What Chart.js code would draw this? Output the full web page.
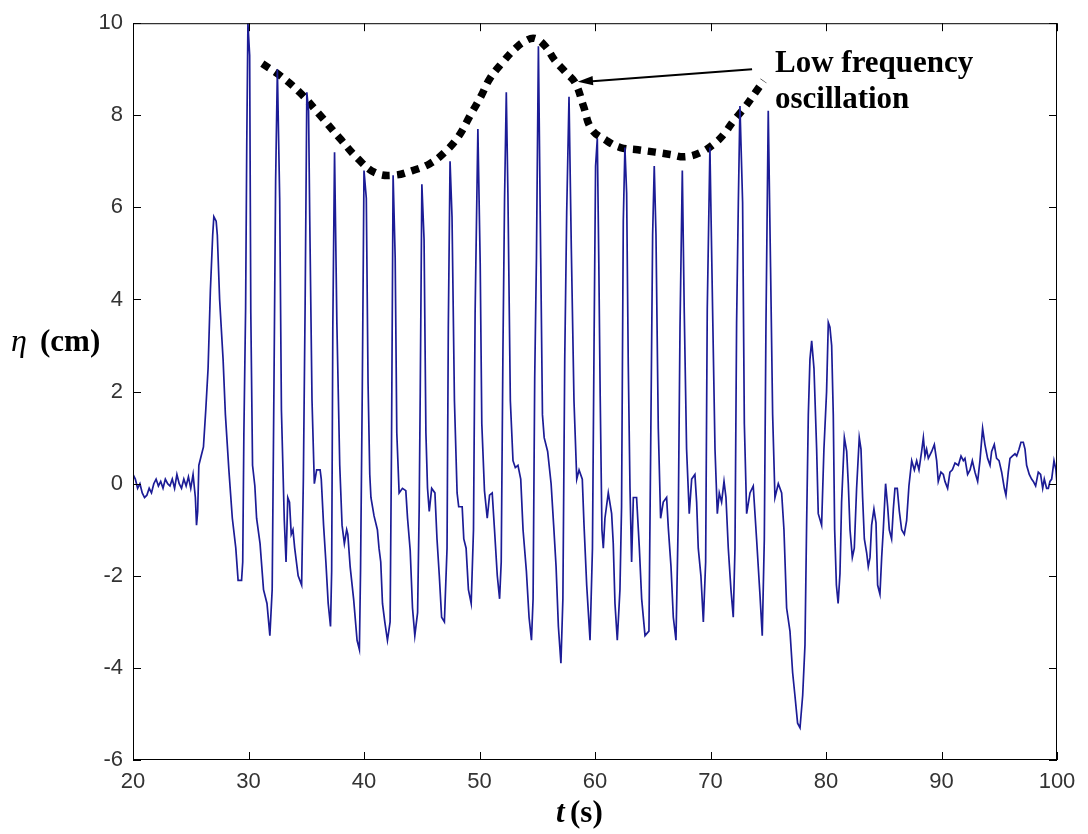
<!DOCTYPE html>
<html>
<head>
<meta charset="utf-8">
<script src="https://cdn.jsdelivr.net/npm/chart.js@4.4.1/dist/chart.umd.min.js"></script>
<style>
  html, body { margin: 0; padding: 0; background: #fff; }
  #wrap { width: 1088px; height: 834px; }
</style>
</head>
<body>
<div id="wrap"><canvas id="waveChart" width="1088" height="834"></canvas></div>
<script>
// time (s) and surface elevation (cm)
var times = [
  20.0, 20.2, 20.4, 20.6, 20.8, 21.0, 21.2, 21.4, 21.6, 21.8, 22.0, 22.2, 22.4, 22.6, 22.8, 23.0, 23.2, 23.4, 23.6, 23.8,
  24.0, 24.2, 24.4, 24.6, 24.8, 25.0, 25.2, 25.4, 25.5, 25.6, 25.7, 25.9, 26.1, 26.3, 26.5, 26.7, 26.9, 27.0, 27.2, 27.3,
  27.5, 27.8, 28.0, 28.3, 28.6, 28.9, 29.1, 29.4, 29.5, 29.6, 29.75, 29.85, 29.95, 30.1, 30.2, 30.35, 30.55, 30.7, 31.0, 31.3,
  31.6, 31.85, 32.05, 32.2, 32.35, 32.5, 32.7, 32.85, 33.1, 33.25, 33.4, 33.55, 33.7, 33.85, 34.0, 34.3, 34.6, 34.75, 34.9, 35.05,
  35.2, 35.3, 35.5, 35.7, 35.9, 36.2, 36.3, 36.5, 36.7, 36.9, 37.1, 37.2, 37.3, 37.45, 37.65, 37.9, 38.1, 38.3, 38.5, 38.6,
  38.8, 39.1, 39.4, 39.6, 39.7, 39.85, 40.0, 40.2, 40.35, 40.5, 40.6, 40.87, 41.16, 41.3, 41.45, 41.6, 41.8, 42.03, 42.26, 42.38,
  42.52, 42.7, 42.84, 43.04, 43.33, 43.62, 43.77, 44.0, 44.2, 44.4, 44.64, 44.78, 44.87, 45.01, 45.2, 45.36, 45.5, 45.65, 45.86, 46.14,
  46.32, 46.52, 46.72, 46.96, 47.19, 47.3, 47.45, 47.62, 47.83, 48.06, 48.2, 48.5, 48.64, 48.84, 49.04, 49.28, 49.48, 49.62, 49.86, 50.06,
  50.2, 50.43, 50.67, 50.87, 51.1, 51.3, 51.54, 51.74, 51.88, 52.03, 52.17, 52.32, 52.46, 52.67, 52.9, 53.1, 53.33, 53.57, 53.77, 54.06,
  54.29, 54.5, 54.64, 54.78, 54.93, 55.1, 55.3, 55.45, 55.6, 55.9, 56.2, 56.42, 56.63, 56.83, 57.05, 57.22, 57.38, 57.55, 57.75, 57.95,
  58.18, 58.42, 58.62, 58.9, 59.05, 59.28, 59.57, 59.78, 59.92, 60.05, 60.2, 60.33, 60.45, 60.6, 60.72, 60.86, 61.15, 61.44, 61.58, 61.73,
  61.93, 62.16, 62.3, 62.45, 62.59, 62.74, 62.88, 63.03, 63.17, 63.32, 63.6, 63.84, 64.04, 64.33, 64.67, 64.82, 64.99, 65.13, 65.28, 65.48,
  65.68, 65.91, 66.2, 66.35, 66.58, 66.78, 67.01, 67.21, 67.36, 67.56, 67.73, 67.93, 68.16, 68.37, 68.65, 68.8, 68.94, 69.17, 69.38, 69.58,
  69.72, 69.95, 70.18, 70.39, 70.59, 70.76, 70.96, 71.17, 71.34, 71.54, 71.77, 71.97, 72.12, 72.26, 72.41, 72.55, 72.78, 72.93, 73.13, 73.42,
  73.7, 73.99, 74.28, 74.48, 74.66, 74.8, 75.0, 75.2, 75.38, 75.58, 75.87, 76.16, 76.36, 76.59, 76.88, 77.11, 77.31, 77.54, 77.75, 77.98,
  78.18, 78.32, 78.47, 78.61, 78.76, 78.96, 79.19, 79.33, 79.62, 79.82, 80.05, 80.2, 80.34, 80.49, 80.63, 80.75, 80.9, 81.05, 81.21, 81.35,
  81.59, 81.79, 81.93, 82.08, 82.28, 82.45, 82.65, 82.88, 83.03, 83.17, 83.32, 83.52, 83.66, 83.81, 83.95, 84.15, 84.33, 84.47, 84.67, 84.82,
  84.96, 85.16, 85.34, 85.48, 85.68, 85.83, 85.97, 86.17, 86.35, 86.55, 86.78, 86.98, 87.18, 87.42, 87.65, 87.85, 88.05, 88.28, 88.43, 88.57,
  88.71, 88.86, 89.15, 89.38, 89.58, 89.72, 89.95, 90.16, 90.3, 90.53, 90.73, 90.94, 91.17, 91.46, 91.69, 91.89, 92.03, 92.26, 92.47, 92.67,
  92.9, 93.13, 93.33, 93.56, 93.76, 93.99, 94.2, 94.34, 94.57, 94.77, 94.98, 95.21, 95.44, 95.58, 95.78, 95.93, 96.13, 96.36, 96.51, 96.71,
  96.88, 97.08, 97.23, 97.37, 97.6, 97.8, 97.95, 98.15, 98.38, 98.58, 98.76, 98.9, 99.1, 99.25, 99.39, 99.54, 99.74, 99.91, 100.0
];
var eta = [
  0.2, 0.1, -0.1, 0.0, -0.2, -0.3, -0.25, -0.1, -0.2, 0.0, 0.1, -0.05, 0.05, -0.1, 0.1, 0.0, -0.05, 0.1, -0.1, 0.2,
  0.0, -0.1, 0.1, -0.05, 0.15, -0.1, 0.2, -0.3, -0.9, -0.6, 0.4, 0.6, 0.8, 1.6, 2.5, 4.2, 5.4, 5.8, 5.7, 5.4,
  4.0, 2.7, 1.5, 0.3, -0.75, -1.4, -2.1, -2.1, -1.7, 1.1, 3.8, 7.4, 10.0, 9.3, 3.7, 0.4, -0.05, -0.75, -1.3, -2.3,
  -2.6, -3.3, -2.3, 2.0, 6.6, 9.0, 6.2, 1.6, -0.8, -1.7, -0.3, -0.4, -1.1, -1.0, -1.4, -2.0, -2.2, 0.1, 3.8, 8.5,
  8.1, 5.8, 1.8, 0.0, 0.3, 0.3, 0.1, -0.9, -1.7, -2.6, -3.1, -1.9, 3.4, 7.2, 3.5, 0.4, -0.9, -1.3, -1.0, -1.1,
  -1.8, -2.5, -3.4, -3.6, -1.9, 2.0, 6.8, 6.2, 2.2, 0.2, -0.3, -0.7, -1.0, -1.4, -1.7, -2.6, -3.0, -3.4, -3.0, 0.75,
  6.7, 4.9, 1.1, -0.2, -0.1, -0.15, -0.75, -1.45, -2.7, -3.3, -2.8, -0.5, 2.0, 6.5, 5.3, 1.1, -0.1, -0.6, -0.1, -0.2,
  -1.2, -2.0, -2.9, -3.0, -1.4, 3.4, 7.0, 5.8, 1.8, -0.2, -0.5, -0.5, -1.2, -1.4, -2.3, -2.6, -1.0, 3.7, 7.7, 4.8,
  1.3, -0.15, -0.75, -0.25, -0.2, -1.0, -2.0, -2.5, -1.7, 2.9, 6.2, 8.5, 6.3, 1.8, 0.5, 0.35, 0.4, 0.1, -1.0, -1.9,
  -2.9, -3.4, -2.5, 2.3, 4.9, 9.5, 4.9, 1.5, 1.0, 0.7, 0.0, -0.9, -1.8, -3.1, -3.9, -2.5, 2.7, 5.9, 8.4, 5.1,
  1.8, 0.1, 0.3, 0.1, -0.9, -2.2, -3.4, -1.4, 3.1, 6.9, 7.5, 4.8, 1.9, -1.0, -1.4, -0.75, -0.2, -0.65, -1.3, -2.6,
  -3.4, -2.3, -0.5, 5.7, 7.3, 6.3, 2.6, -0.1, -1.7, -0.3, -0.3, -1.4, -2.5, -3.3, -3.2, 0.75, 5.4, 6.9, 5.4, 1.2,
  -0.75, -0.4, -0.3, -0.97, -1.8, -2.9, -3.4, -0.75, 3.4, 6.8, 3.7, 0.75, -0.65, 0.1, 0.2, -0.4, -1.4, -2.0, -3.0, -1.7,
  3.8, 7.3, 3.8, 0.75, -0.65, -0.2, -0.4, 0.05, -0.3, -1.4, -2.3, -2.9, -1.4, 3.5, 6.1, 8.2, 6.1, 1.3, -0.65, -0.2,
  -0.05, -1.2, -2.4, -3.3, -1.2, 3.4, 8.1, 4.7, 1.5, -0.3, 0.0, -0.2, -1.0, -2.7, -3.2, -4.1, -4.6, -5.2, -5.3, -4.6,
  -3.5, -0.9, 1.5, 2.7, 3.1, 2.5, 0.75, -0.65, -0.9, 0.75, 2.0, 3.5, 3.4, 3.0, 1.5, -1.0, -2.2, -2.6, -1.95, -0.4,
  1.0, 0.7, 0.0, -1.0, -1.6, -1.4, -0.1, 1.0, 0.75, -0.3, -1.2, -1.5, -1.8, -1.6, -0.9, -0.55, -0.85, -2.2, -2.4, -1.6,
  -1.0, 0.0, -0.5, -1.0, -1.2, -0.55, -0.1, -0.1, -0.6, -1.0, -1.1, -0.8, -0.05, 0.5, 0.3, 0.5, 0.3, 0.7, 1.0, 0.6,
  0.75, 0.55, 0.7, 0.85, 0.5, 0.05, 0.25, 0.2, 0.05, -0.1, 0.25, 0.3, 0.45, 0.4, 0.6, 0.5, 0.55, 0.2, 0.3, 0.5,
  0.25, 0.05, 0.5, 1.2, 0.85, 0.55, 0.4, 0.7, 0.85, 0.55, 0.5, 0.25, -0.1, -0.25, 0.25, 0.55, 0.6, 0.65, 0.6, 0.75,
  0.9, 0.9, 0.75, 0.4, 0.2, 0.1, 0.05, -0.05, 0.25, 0.2, -0.1, 0.1, -0.1, -0.1, 0.05, 0.1, 0.5, 0.3, 0.0
];

// dotted envelope of the crests
var envTimes = [31.2, 32.8, 34.5, 36.2, 37.9, 39.5, 41.0, 42.6, 44.2, 45.7, 47.0, 48.2, 49.2, 50.1, 50.9, 52.0, 53.1, 54.0, 54.8, 55.7, 56.5, 57.4, 58.3, 59.0, 59.7, 61.0, 62.2, 63.7, 65.2, 66.5, 67.8, 69.2, 70.4, 71.2, 71.9, 72.9, 73.9, 74.6];
var envEta = [9.12, 8.85, 8.48, 8.0, 7.5, 7.05, 6.75, 6.7, 6.8, 6.95, 7.2, 7.55, 8.0, 8.4, 8.8, 9.15, 9.45, 9.62, 9.67, 9.5, 9.2, 8.95, 8.7, 8.2, 7.7, 7.45, 7.3, 7.25, 7.2, 7.15, 7.1, 7.2, 7.4, 7.6, 7.85, 8.15, 8.5, 8.75];

var xTicks = [20, 30, 40, 50, 60, 70, 80, 90, 100];
var yTicks = [-6, -4, -2, 0, 2, 4, 6, 8, 10];

function toPoints(xs, ys) {
  return xs.map(function (x, i) { return { x: x, y: ys[i] }; });
}

// frame, inward ticks on all four sides, axis titles and the arrow note
var matlabFrame = {
  id: 'matlabFrame',
  afterDraw: function (chart) {
    var c = chart.ctx, a = chart.chartArea;
    var xs = chart.scales.x, ys = chart.scales.y;
    var tl = 8;
    c.save();
    c.strokeStyle = '#000';
    c.lineWidth = 1;
    c.strokeRect(a.left + 0.5, a.top + 0.5, a.right - a.left - 1, a.bottom - a.top - 1);
    c.beginPath();
    xTicks.forEach(function (v) {
      var px = Math.round(xs.getPixelForValue(v)) + 0.5;
      c.moveTo(px, a.bottom); c.lineTo(px, a.bottom - tl);
      c.moveTo(px, a.top); c.lineTo(px, a.top + tl);
    });
    yTicks.forEach(function (v) {
      var py = Math.round(ys.getPixelForValue(v)) + 0.5;
      c.moveTo(a.left, py); c.lineTo(a.left + tl, py);
      c.moveTo(a.right, py); c.lineTo(a.right - tl, py);
    });
    c.stroke();

    // arrow pointing at the envelope
    var x1 = xs.getPixelForValue(73.6), y1 = ys.getPixelForValue(9.0);
    var x2 = xs.getPixelForValue(58.5), y2 = ys.getPixelForValue(8.73);
    c.lineWidth = 2;
    c.beginPath(); c.moveTo(x1, y1); c.lineTo(x2 + 8, y2); c.stroke();
    var ang = Math.atan2(y2 - y1, x2 - x1);
    c.fillStyle = '#000';
    c.beginPath();
    c.moveTo(x2, y2);
    c.lineTo(x2 - 16 * Math.cos(ang - 0.3), y2 - 16 * Math.sin(ang - 0.3));
    c.lineTo(x2 - 16 * Math.cos(ang + 0.3), y2 - 16 * Math.sin(ang + 0.3));
    c.closePath(); c.fill();

    c.font = 'bold 31px "Liberation Serif", "Times New Roman", serif';
    c.textBaseline = 'alphabetic';
    c.textAlign = 'left';
    c.fillText('Low frequency', 775, 72);
    c.fillText('oscillation', 775, 108);

    // y title: eta (cm)
    c.font = 'italic 32px "Liberation Serif", "Times New Roman", serif';
    c.fillText('\u03b7', 11, 351);
    c.font = 'bold 31px "Liberation Serif", "Times New Roman", serif';
    c.fillText('(cm)', 40, 351);

    // x title: t (s)
    c.font = 'bold italic 31px "Liberation Serif", "Times New Roman", serif';
    c.fillText('t', 556, 822);
    c.font = 'bold 31px "Liberation Serif", "Times New Roman", serif';
    c.fillText('(s)', 570, 822);
    c.restore();
  }
};

var ctx = document.getElementById('waveChart').getContext('2d');
var waveChart = new Chart(ctx, {
  type: 'line',
  data: {
    datasets: [{
      label: 'eta',
      data: toPoints(times, eta),
      borderColor: '#1c1c96',
      borderWidth: 1.7,
      pointRadius: 0,
      tension: 0
    }, {
      label: 'envelope',
      data: toPoints(envTimes, envEta),
      borderColor: '#000',
      borderWidth: 7.5,
      borderDash: [8, 7],
      borderCapStyle: 'butt',
      pointRadius: 0,
      tension: 0.4
    }]
  },
  options: {
    responsive: false,
    animation: false,
    layout: { padding: { top: 20, right: 31, left: 0, bottom: 0 } },
    plugins: { legend: { display: false }, tooltip: { enabled: false } },
    scales: {
      x: {
        type: 'linear', min: 20, max: 100,
        afterBuildTicks: function (s) { s.ticks = xTicks.map(function (v) { return { value: v }; }); },
        afterFit: function (s) { s.height = 74; },
        grid: { display: false, drawTicks: false },
        border: { display: false },
        ticks: { padding: 9, color: '#333', font: { family: '"Liberation Sans", Arial, sans-serif', size: 22 }, maxRotation: 0 }
      },
      y: {
        type: 'linear', min: -6, max: 10,
        afterBuildTicks: function (s) { s.ticks = yTicks.map(function (v) { return { value: v }; }); },
        afterFit: function (s) { s.width = 133; },
        grid: { display: false, drawTicks: false },
        border: { display: false },
        ticks: { padding: 10, color: '#333', font: { family: '"Liberation Sans", Arial, sans-serif', size: 22 } }
      }
    }
  },
  plugins: [matlabFrame]
});
</script>
</body>
</html>
